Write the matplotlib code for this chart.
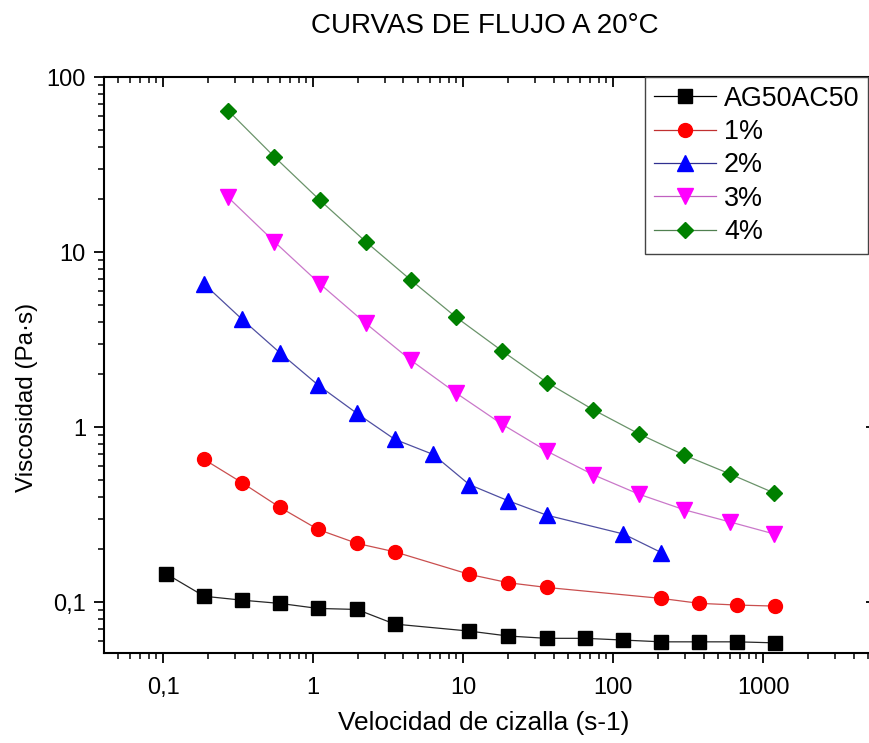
import matplotlib
matplotlib.use("Agg")
import matplotlib.pyplot as plt
from matplotlib.ticker import LogLocator, FuncFormatter, NullFormatter

plt.rcParams['font.family'] = ['Liberation Sans', 'DejaVu Sans']

# Shear rate (s-1) and viscosity (Pa·s) for each formulation
x_ag = [0.105, 0.188, 0.336, 0.60, 1.08, 1.96, 3.5, 11.0, 20.0, 36.0, 65.0, 117.0, 209.0, 374.0, 671.0, 1200.0]
y_ag = [0.145, 0.108, 0.1026, 0.0983, 0.092, 0.0908, 0.0749, 0.0683, 0.064, 0.0621, 0.0621, 0.0607, 0.0593, 0.0593, 0.0593, 0.0585]

x_1 = [0.188, 0.336, 0.60, 1.08, 1.96, 3.5, 11.0, 20.0, 36.0, 209.0, 374.0, 671.0, 1200.0]
y_1 = [0.653, 0.481, 0.348, 0.260, 0.2165, 0.1938, 0.144, 0.129, 0.1213, 0.105, 0.0984, 0.0962, 0.0949]

x_2 = [0.188, 0.336, 0.60, 1.08, 1.96, 3.5, 6.3, 11.0, 20.0, 36.0, 117.0, 209.0]
y_2 = [6.56, 4.13, 2.66, 1.738, 1.197, 0.851, 0.698, 0.469, 0.379, 0.314, 0.245, 0.192]

x_3 = [0.272, 0.552, 1.108, 2.245, 4.48, 8.98, 18.1, 36.3, 73.6, 147.9, 297.0, 596.0, 1184.0]
y_3 = [20.5, 11.45, 6.59, 3.91, 2.41, 1.564, 1.04, 0.727, 0.534, 0.414, 0.337, 0.2875, 0.245]

x_4 = [0.272, 0.552, 1.108, 2.245, 4.48, 8.98, 18.1, 36.3, 73.6, 147.9, 297.0, 596.0, 1184.0]
y_4 = [64.2, 35.0, 19.8, 11.45, 6.92, 4.24, 2.73, 1.795, 1.256, 0.916, 0.692, 0.541, 0.42]

labels = ["AG50AC50", "1%", "2%", "3%", "4%"]
title = "CURVAS DE FLUJO A 20°C"
xlabel = "Velocidad de cizalla (s-1)"
ylabel = "Viscosidad (Pa·s)"

W, H = 870, 743
fig = plt.figure(figsize=(W / 100, H / 100), dpi=100)
# right spine sits just past the edge of the canvas
ax = fig.add_axes([104 / W, (H - 653) / H, 772 / W, 576 / H])

series = [
    (x_ag, y_ag, 's', 9.5, '#000000', '#000000'),
    (x_1, y_1, 'o', 10, '#ff0000', '#c03030'),
    (x_2, y_2, '^', 11, '#0000ff', '#303090'),
    (x_3, y_3, 'v', 11, '#ff00ff', '#c060c0'),
    (x_4, y_4, 'D', 8.5, '#008000', '#508050'),
]
for (xs, ys, m, ms, c, lc), lab in zip(series, labels):
    ax.plot(xs, ys, color=lc, lw=0.9, alpha=0.85, zorder=2)
    ax.plot(xs, ys, linestyle='none', marker=m, ms=ms, color=c, mec=c, zorder=3)
    # legend proxy combining the line and the marker
    ax.plot([], [], color=lc, lw=0.9, marker=m, ms=ms, mfc=c, mec=c, label=lab)

ax.set_xscale('log')
ax.set_yscale('log')
ax.set_xlim(0.0404, 5640)
ax.set_ylim(0.0512, 100)


def comma_fmt(v, pos):
    if v >= 1:
        return f"{v:.0f}"
    s = f"{v:g}"
    return s.replace('.', ',')


for axis in (ax.xaxis, ax.yaxis):
    axis.set_major_locator(LogLocator(base=10, numticks=20))
    axis.set_minor_locator(LogLocator(base=10, subs=range(2, 10), numticks=20))
    axis.set_major_formatter(FuncFormatter(comma_fmt))
    axis.set_minor_formatter(NullFormatter())

for side in ax.spines.values():
    side.set_linewidth(1.5)

ax.tick_params(axis='both', which='major', length=7, width=1.3, labelsize=17)
ax.tick_params(axis='both', which='minor', length=4, width=1.1)
ax.tick_params(axis='x', which='both', direction='out', pad=10)
ax.tick_params(axis='y', which='both', direction='out', pad=6)
ax.tick_params(which='both', top=True, right=True)
# ticks on the opposite sides point inward
for t in ax.xaxis.get_major_ticks() + ax.xaxis.get_minor_ticks():
    t.tick2line.set_marker(matplotlib.lines.TICKDOWN)
for t in ax.yaxis.get_major_ticks() + ax.yaxis.get_minor_ticks():
    t.tick2line.set_marker(matplotlib.lines.TICKLEFT)

ax.set_xlabel(xlabel, fontsize=18.9)
ax.set_ylabel(ylabel, fontsize=17.5)
ax.xaxis.set_label_coords(0.492, -0.1)
ax.yaxis.set_label_coords(-0.086, 0.444)

fig.text(485 / W, 1 - 26 / H, title, ha='center', va='center', fontsize=20)

leg = ax.legend(loc='upper left', bbox_to_anchor=(645 / W, 1 - 77 / H),
                bbox_transform=fig.transFigure, borderaxespad=0,
                fontsize=19.4, frameon=True, fancybox=False, framealpha=1,
                edgecolor='#444444', handlelength=2.3, handletextpad=0.3,
                labelspacing=0.27, borderpad=0.33)
leg.get_frame().set_linewidth(1.0)

fig.savefig("out.png", dpi=100)
